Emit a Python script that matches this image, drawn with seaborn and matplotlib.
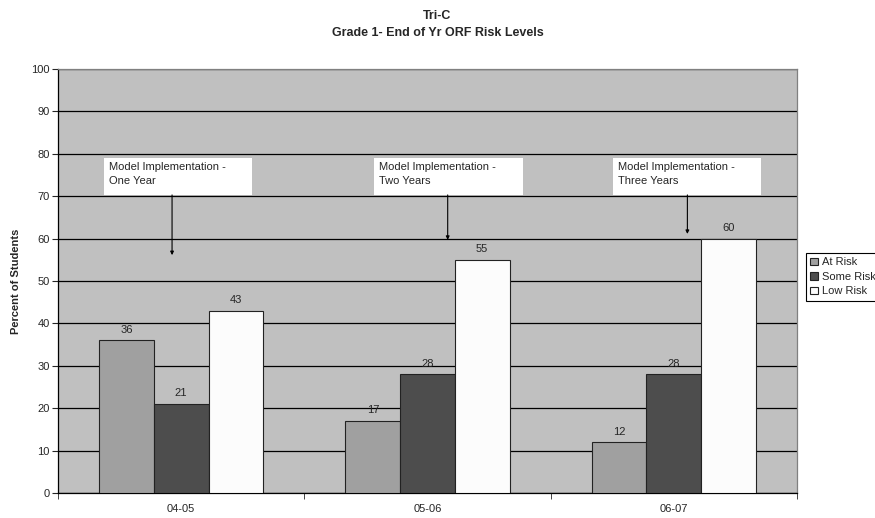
import matplotlib
matplotlib.use("Agg")
import matplotlib.pyplot as plt
import numpy as np
import pandas as pd
import seaborn as sns

years = ["04-05", "05-06", "06-07"]
levels = ["At Risk", "Some Risk", "Low Risk"]
at_risk = [36, 17, 12]
some_risk = [21, 28, 28]
low_risk = [43, 55, 60]
notes = ["Model Implementation -\nOne Year",
         "Model Implementation -\nTwo Years",
         "Model Implementation -\nThree Years"]

df = pd.DataFrame({
    "year": years * 3,
    "risk": [l for l in levels for _ in years],
    "pct": at_risk + some_risk + low_risk,
})

sns.set_style("white")
plt.rcParams["font.family"] = ["Liberation Sans", "DejaVu Sans"]

fig = plt.figure(figsize=(8.75, 5.18), dpi=100)
ax = fig.add_axes([58 / 875, 1 - 493 / 518, (797 - 58) / 875, (493 - 69) / 518])
ax.set_facecolor("#c0c0c0")

pal = {"At Risk": "#a0a0a0", "Some Risk": "#4d4d4d", "Low Risk": "#fcfcfc"}
sns.barplot(data=df, x="year", y="pct", hue="risk", hue_order=levels, order=years,
            palette=pal, width=0.666, edgecolor="#222222", linewidth=0.8,
            saturation=1, ax=ax, zorder=3)

for c in ax.containers:
    ax.bar_label(c, fmt="%d", padding=4, fontsize=8)

ax.set_ylim(0, 100)
ax.set_xlim(-0.5, 2.5)
ax.set_yticks(np.arange(0, 101, 10))
ax.yaxis.grid(True, color="black", linewidth=0.9, zorder=0)
ax.set_axisbelow(True)
ax.tick_params(axis="y", labelsize=8, length=4, direction="out", left=True, pad=2)
ax.set_xticks([0, 1, 2])
ax.set_xticklabels(years)
ax.tick_params(axis="x", which="major", length=0, labelsize=8, pad=8)
ax.set_xticks([-0.5, 0.5, 1.5, 2.5], minor=True)
ax.tick_params(axis="x", which="minor", length=4, bottom=True, direction="out")
for s in ["left", "bottom"]:
    ax.spines[s].set_color("black")
    ax.spines[s].set_linewidth(0.9)
for s in ["top", "right"]:
    ax.spines[s].set_color("#808080")
    ax.spines[s].set_linewidth(0.9)

ax.set_xlabel("")
ax.set_ylabel("Percent of Students", fontsize=8, fontweight="bold", labelpad=7)

# annotation boxes with arrows
box_left = [-0.313, 0.783, 1.755]
box_right = [0.286, 1.387, 2.354]
arrow_x = [-0.037, 1.082, 2.055]
arrow_tip = [56.1, 59.7, 61.1]
for note, l, r, ax_x, tip in zip(notes, box_left, box_right, arrow_x, arrow_tip):
    ax.add_patch(plt.Rectangle((l, 70.3), r - l, 8.6, facecolor="white",
                               edgecolor="none", zorder=4))
    ax.text(l + 0.02, 78.0, note, fontsize=8, va="top", ha="left",
            linespacing=1.5, zorder=5)
    ax.annotate("", xy=(ax_x, tip), xytext=(ax_x, 70.3),
                arrowprops=dict(arrowstyle="-|>", color="black", lw=0.8,
                                mutation_scale=5, shrinkA=0, shrinkB=0),
                zorder=5)

handles, labels = ax.get_legend_handles_labels()
ax.legend(handles, labels, loc="upper left", bbox_to_anchor=(806 / 875, 1 - 253 / 518),
          bbox_transform=fig.transFigure, fontsize=8, frameon=True, fancybox=False,
          edgecolor="black", framealpha=1, handlelength=0.7, handleheight=0.7,
          handletextpad=0.3, borderpad=0.4, labelspacing=0.4, borderaxespad=0)
ax.get_legend().get_frame().set_linewidth(0.8)

fig.text(0.5, 1 - 16 / 518, "Tri-C", ha="center", va="center", fontsize=9, fontweight="bold")
fig.text(0.5, 1 - 33 / 518, "Grade 1- End of Yr ORF Risk Levels", ha="center",
         va="center", fontsize=9, fontweight="bold")

fig.savefig("out.png", dpi=100)
